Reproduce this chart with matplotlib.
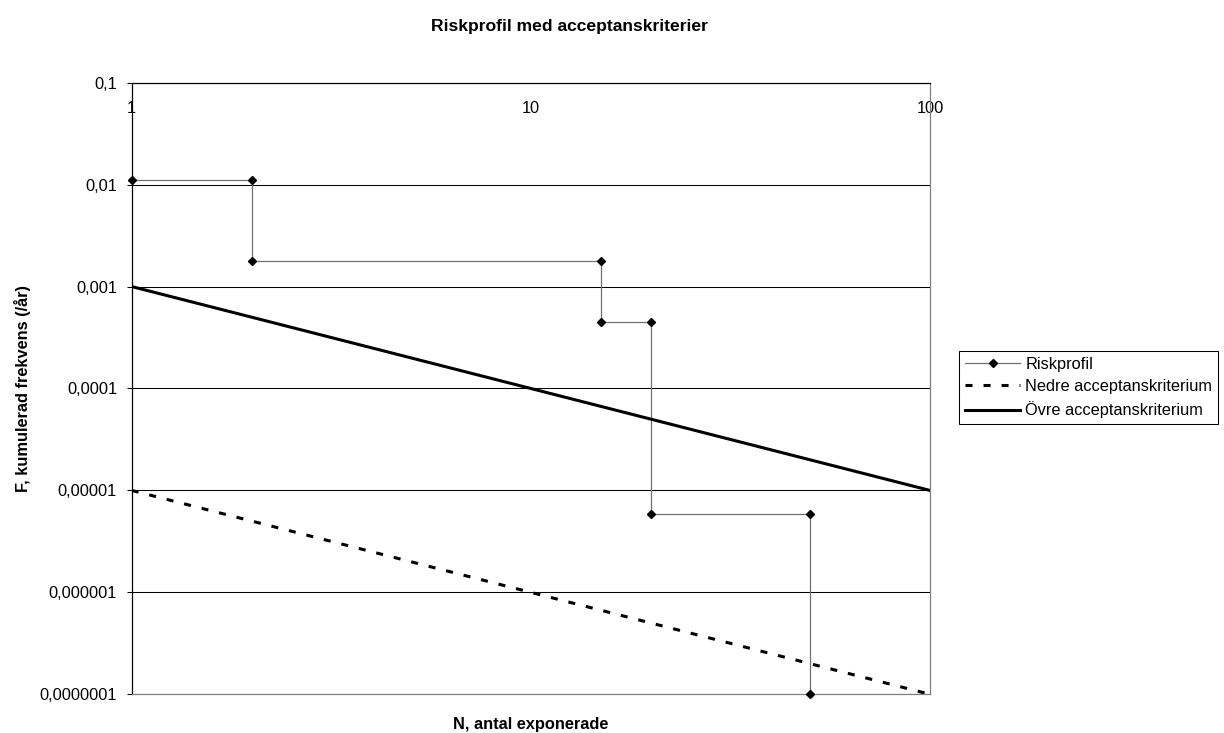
import matplotlib.pyplot as plt
from matplotlib.ticker import FixedLocator, FixedFormatter, NullLocator

plt.rcParams['font.family'] = ['Liberation Sans', 'DejaVu Sans']

# riskprofil (trappsteg, varje hörn är en egen punkt)
n_risk = [1, 2, 2, 15, 15, 20, 20, 50, 50]
f_risk = [0.0112, 0.0112, 0.00177, 0.00177, 0.000447, 0.000447, 5.9e-6, 5.9e-6, 1e-7]

# acceptanskriterier
n_krit = [1, 100]
f_nedre = [1e-5, 1e-7]
f_ovre = [1e-3, 1e-5]

x_ticks = [1, 10, 100]
x_labels = ['1', '10', '100']
y_ticks = [1e-7, 1e-6, 1e-5, 1e-4, 1e-3, 1e-2, 1e-1]
y_labels = ['0,0000001', '0,000001', '0,00001', '0,0001', '0,001', '0,01', '0,1']

fig = plt.figure(figsize=(12.24, 7.33), dpi=100)
ax = fig.add_axes([0.1076, 0.0528, 0.6522, 0.8344])

ax.plot(n_risk, f_risk, color='#707070', lw=0.9, marker='D', ms=4.0,
        mfc='black', mec='black', clip_on=False, zorder=3, label='Riskprofil')
ax.plot(n_krit, f_nedre, color='black', lw=2.2, linestyle=(0, (2.3, 3.6)),
        zorder=3, label='Nedre acceptanskriterium')
ax.plot(n_krit, f_ovre, color='black', lw=2.2, zorder=4,
        label='Övre acceptanskriterium')

ax.set_xscale('log')
ax.set_yscale('log')
ax.set_xlim(1, 100)
ax.set_ylim(1e-7, 1e-1)

ax.xaxis.set_major_locator(FixedLocator(x_ticks))
ax.xaxis.set_major_formatter(FixedFormatter(x_labels))
ax.xaxis.set_minor_locator(NullLocator())
ax.yaxis.set_major_locator(FixedLocator(y_ticks))
ax.yaxis.set_major_formatter(FixedFormatter(y_labels))
ax.yaxis.set_minor_locator(NullLocator())

ax.tick_params(axis='x', top=True, bottom=False, labeltop=True, labelbottom=False,
               length=0, pad=-24, labelsize=11.8)
ax.tick_params(axis='y', direction='out', length=3.6, width=0.75, pad=7,
               labelsize=11.8, color='black')

ax.grid(True, axis='y', color='black', lw=0.75)
ax.set_axisbelow(True)

ax.spines['left'].set_color('black')
ax.spines['top'].set_color('black')
ax.spines['right'].set_color('#808080')
ax.spines['bottom'].set_color('#808080')
for s in ax.spines.values():
    s.set_linewidth(0.9)

ax.set_ylabel('F, kumulerad frekvens (/år)', fontsize=11.8, fontweight='bold', labelpad=6)
ax.set_xlabel('N, antal exponerade', fontsize=11.8, fontweight='bold', labelpad=16)
ax.xaxis.set_label_position('bottom')

fig.text(0.4653, 0.964, 'Riskprofil med acceptanskriterier', ha='center', va='center',
         fontsize=12.6, fontweight='bold')

leg = ax.legend(loc='upper left', bbox_to_anchor=(0.7835, 0.5211),
                bbox_transform=fig.transFigure, borderaxespad=0, fontsize=11.8,
                frameon=True, fancybox=False, framealpha=1, edgecolor='black',
                handlelength=3.4, handletextpad=0.3, labelspacing=0.45,
                borderpad=0.35)
leg.get_frame().set_linewidth(0.75)

fig.savefig('out.png', dpi=100)
